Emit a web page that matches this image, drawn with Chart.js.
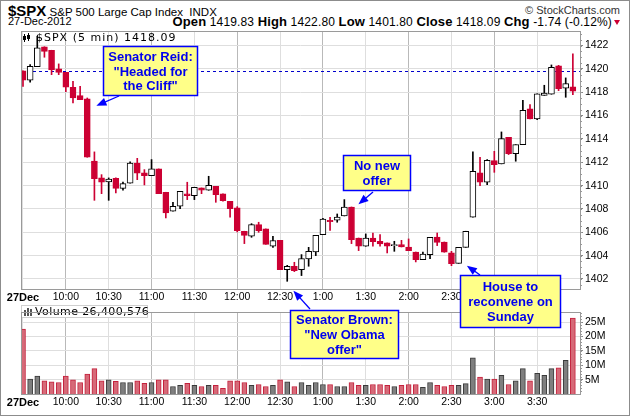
<!DOCTYPE html>
<html>
<head>
<meta charset="utf-8">
<script src="https://cdn.jsdelivr.net/npm/chart.js@4.4.1/dist/chart.umd.min.js"></script>
<style>
  body { margin: 0; background: #fff; }
  #wrap { position: relative; width: 630px; height: 416px; overflow: hidden; font-family: "Liberation Sans", Arial, sans-serif; color: #000; }
  .abs { position: absolute; white-space: nowrap; }
  #frame { left: 0; top: 0; width: 628px; height: 414px; border: 1px solid #8c8c8c; }
  canvas { position: absolute; left: 0; }
</style>
</head>
<body>
<div id="wrap">
  <div class="abs" style="left:8px;top:2px;font-size:11.5px;"><b style="font-size:15px">$SPX</b> S&amp;P 500 Large Cap Index &nbsp;INDX</div>
  <div class="abs" style="right:10px;top:4px;font-size:11px;color:#333;">&copy; StockCharts.com</div>
  <div class="abs" style="left:8px;top:15px;font-size:11px;">27-Dec-2012</div>
  <div class="abs" style="right:18px;top:14px;font-size:12px;letter-spacing:0.15px;"><b style="font-size:13px">Open</b> 1419.83 <b style="font-size:13px">High</b> 1422.80 <b style="font-size:13px">Low</b> 1401.80 <b style="font-size:13px">Close</b> 1418.09 <b style="font-size:13px">Chg</b> -1.74 (-0.12%)</div>
  <div class="abs" style="left:614px;top:20px;width:0;height:0;border-left:3px solid transparent;border-right:3px solid transparent;border-top:5px solid #cc0033;"></div>

  <canvas id="price" width="630" height="304" style="top:0"></canvas>
  <canvas id="vol" width="630" height="112" style="top:304px"></canvas>
  <canvas id="notes" width="630" height="416" style="top:0"></canvas>
  <div id="frame" class="abs"></div>
</div>

<script>
// 5-minute bars, 9:30 .. 15:55, 27 Dec 2012
const tickLabels = ["27Dec", "10:00", "10:30", "11:00", "11:30", "12:00", "12:30", "1:00", "1:30", "2:00", "2:30", "3:00", "3:30", ""];
const priceTicks = [1402, 1404, 1406, 1408, 1410, 1412, 1414, 1416, 1418, 1420, 1422];
const volTicks = [5, 10, 15, 20, 25];
const prevClose = 1419.83;

const openP = [1419.83, 1419.03, 1420.20, 1421.89, 1421.60, 1420.00, 1419.71, 1418.43, 1417.71, 1417.43,
  1412.11, 1410.66, 1410.31, 1410.63, 1409.77, 1410.20, 1411.94, 1411.09, 1410.86, 1411.43,
  1409.43, 1407.80, 1408.23, 1409.29, 1409.14, 1409.80, 1409.60, 1409.94, 1409.29, 1408.66,
  1408.09, 1406.09, 1405.66, 1406.66, 1406.29, 1404.80, 1405.31, 1402.80, 1403.09, 1402.80,
  1403.71, 1404.31, 1405.80, 1407.03, 1407.03, 1407.40, 1408.17, 1405.51, 1404.80, 1405.51,
  1405.23, 1405.09, 1404.86, 1404.94, 1404.74, 1404.31, 1403.66, 1404.09, 1405.60, 1405.17,
  1404.23, 1403.34, 1404.71, 1407.29, 1411.09, 1410.29, 1412.14, 1411.86, 1414.14, 1412.74,
  1413.51, 1416.57, 1415.71, 1417.74, 1417.83, 1420.26, 1418.34, 1418.46];
const highP = [1419.83, 1420.37, 1422.80, 1421.90, 1421.60, 1420.43, 1419.71, 1418.94, 1418.51, 1417.51,
  1412.89, 1410.94, 1410.66, 1410.66, 1410.31, 1412.03, 1412.34, 1411.37, 1412.23, 1411.43,
  1409.43, 1408.57, 1409.51, 1410.29, 1409.86, 1409.80, 1410.80, 1409.94, 1409.29, 1408.66,
  1408.20, 1406.09, 1406.74, 1406.86, 1406.29, 1405.66, 1405.31, 1403.17, 1403.43, 1404.09,
  1404.71, 1405.74, 1407.20, 1407.29, 1407.57, 1408.80, 1408.17, 1405.51, 1405.86, 1405.94,
  1405.80, 1405.09, 1405.23, 1405.31, 1405.43, 1404.31, 1404.31, 1405.57, 1405.94, 1405.17,
  1404.37, 1404.71, 1406.09, 1412.89, 1412.43, 1412.23, 1412.94, 1414.60, 1414.14, 1413.51,
  1417.31, 1416.94, 1417.86, 1418.60, 1420.34, 1420.31, 1419.23, 1421.29];
const lowP = [1418.51, 1418.86, 1420.20, 1421.00, 1419.51, 1419.51, 1418.06, 1417.09, 1417.37, 1412.43,
  1408.74, 1409.31, 1408.74, 1409.37, 1409.60, 1410.20, 1410.51, 1410.06, 1410.86, 1409.31,
  1407.23, 1407.80, 1408.03, 1408.80, 1408.80, 1409.31, 1409.60, 1408.57, 1408.66, 1407.29,
  1406.03, 1405.03, 1405.57, 1406.00, 1404.97, 1404.71, 1402.80, 1401.80, 1402.63, 1402.29,
  1403.09, 1404.00, 1405.80, 1406.17, 1406.86, 1407.40, 1405.03, 1404.43, 1404.80, 1404.80,
  1404.80, 1404.23, 1404.37, 1404.74, 1404.43, 1403.46, 1403.66, 1403.74, 1404.86, 1404.29,
  1403.14, 1403.34, 1404.71, 1407.29, 1410.00, 1410.09, 1411.14, 1411.86, 1412.66, 1412.09,
  1413.51, 1415.71, 1415.66, 1417.74, 1417.83, 1418.14, 1417.57, 1417.80];
const closeP = [1419.03, 1420.23, 1421.80, 1421.51, 1419.94, 1419.71, 1418.43, 1417.51, 1417.37, 1412.43,
  1410.60, 1410.29, 1410.57, 1409.77, 1410.17, 1411.94, 1411.06, 1410.86, 1411.43, 1409.31,
  1407.66, 1408.23, 1409.51, 1409.14, 1409.86, 1409.60, 1410.03, 1409.23, 1408.71, 1408.03,
  1406.14, 1405.74, 1406.66, 1406.14, 1404.97, 1405.29, 1402.80, 1403.09, 1402.71, 1403.74,
  1404.37, 1405.74, 1407.14, 1406.91, 1407.31, 1408.17, 1405.37, 1404.80, 1405.51, 1405.20,
  1405.00, 1404.80, 1404.94, 1404.74, 1404.43, 1403.66, 1404.14, 1405.57, 1405.14, 1404.29,
  1403.31, 1404.71, 1406.09, 1411.23, 1410.29, 1412.17, 1411.80, 1414.03, 1412.74, 1413.51,
  1416.46, 1415.71, 1417.86, 1417.94, 1420.14, 1418.31, 1418.74, 1418.09];
// volume in millions
const volume = [22.6, 5.2, 6.2, 4.6, 4.2, 4.0, 6.2, 4.9, 4.0, 6.9,
  8.8, 4.6, 4.9, 4.4, 4.0, 4.0, 4.6, 3.7, 4.0, 4.9,
  4.9, 2.6, 3.0, 3.7, 3.0, 2.6, 3.0, 3.0, 2.0, 4.6,
  4.6, 4.0, 3.0, 3.3, 2.6, 3.0, 4.9, 4.2, 2.6, 4.0,
  3.0, 4.0, 3.3, 3.3, 2.6, 2.6, 4.0, 3.0, 3.0, 3.3,
  3.3, 3.0, 2.6, 3.0, 3.3, 3.3, 2.3, 4.0, 3.0, 2.6,
  3.0, 3.0, 3.6, 12.6, 5.9, 5.2, 5.2, 6.5, 3.3, 4.6,
  8.8, 4.6, 7.2, 6.5, 8.8, 9.1, 11.7, 26.4];

const DOWN = "#cc0033";
const isUp = closeP.map((c, i) => c >= openP[i]);

const axisFont = { family: "'Liberation Sans', Arial, sans-serif", size: 10.5 };
const dayFont = { family: "'Liberation Sans', Arial, sans-serif", size: 11, weight: "bold" };
const legendFont = "11px 'DejaVu Sans', Verdana, sans-serif";

function timeAxis(h, pad) {
  return {
    type: "linear", min: -0.28, max: 78, offset: false,
    afterBuildTicks: s => { s.ticks = tickLabels.map((t, k) => ({ value: k * 6 })); },
    afterFit: s => { s.height = h; },
    ticks: {
      autoSkip: false, maxRotation: 0, padding: pad, color: "#000",
      font: c => (c.index === 0 ? dayFont : axisFont),
      callback: (v, idx) => tickLabels[idx]
    },
    grid: {
      offset: false, drawTicks: false,
      color: c => (c.tick && c.tick.value % 12 === 6 ? "#b9b9b9" : "#dedede")
    },
    border: { display: false }
  };
}

// box around plot + small minor ticks on the right axis
function framePlugin(step, from, to) {
  return {
    id: "frame",
    afterDraw(chart) {
      const a = chart.chartArea, ctx = chart.ctx, y = chart.scales.y;
      ctx.save();
      ctx.strokeStyle = "#9a9a9a";
      ctx.lineWidth = 1;
      ctx.strokeRect(Math.round(a.left) + 0.5, Math.round(a.top) + 0.5,
        Math.round(a.right - a.left), Math.round(a.bottom - a.top));
      ctx.strokeStyle = "#999";
      ctx.beginPath();
      for (let v = from; v <= to + 1e-9; v += step) {
        const py = Math.round(y.getPixelForValue(v)) + 0.5;
        if (py < a.top || py > a.bottom) continue;
        ctx.moveTo(Math.round(a.right), py);
        ctx.lineTo(Math.round(a.right) + 2, py);
      }
      ctx.stroke();
      ctx.restore();
    }
  };
}

const pricePlugin = {
  id: "priceExtras",
  beforeDatasetsDraw(chart) {
    const a = chart.chartArea, ctx = chart.ctx;
    const py = Math.round(chart.scales.y.getPixelForValue(prevClose)) + 0.5;
    ctx.save();
    ctx.strokeStyle = "#0000cc";
    ctx.setLineDash([3, 3]);
    ctx.beginPath();
    ctx.moveTo(a.left, py);
    ctx.lineTo(a.right, py);
    ctx.stroke();
    ctx.restore();
  },
  afterDatasetsDraw(chart) {
    const ctx = chart.ctx;
    ctx.save();
    // little candle icon
    ctx.fillStyle = "#000";
    ctx.fillRect(24, 34, 1, 8);
    ctx.fillRect(23, 36, 3, 4);
    ctx.fillRect(28, 33, 1, 8);
    ctx.strokeStyle = "#000";
    ctx.strokeRect(27.5, 35.5, 2, 3);
    ctx.font = legendFont;
    ctx.letterSpacing = "1px";
    ctx.textBaseline = "middle";
    ctx.fillText("$SPX (5 min) 1418.09", 36, 38);
    ctx.restore();
  }
};

const volPlugin = {
  id: "volExtras",
  afterDatasetsDraw(chart) {
    const ctx = chart.ctx;
    ctx.save();
    ctx.fillStyle = "#fff";
    ctx.fillRect(21, 1, 126, 12);
    ctx.strokeStyle = "#cfcfcf";
    ctx.strokeRect(21.5, 1.5, 126, 12);
    ctx.fillStyle = "#555";
    ctx.fillRect(24, 6, 2, 6);
    ctx.fillRect(27, 4, 2, 8);
    ctx.fillRect(30, 5, 2, 7);
    ctx.fillStyle = "#000";
    ctx.font = legendFont;
    ctx.letterSpacing = "0.4px";
    ctx.textBaseline = "middle";
    ctx.fillText("Volume 26,400,576", 35, 8);
    ctx.restore();
  }
};

const priceChart = new Chart(document.getElementById("price"), {
  type: "bar",
  data: {
    datasets: [
      {
        label: "body",
        data: openP.map((o, i) => ({ x: i, y: [o, closeP[i]] })),
        backgroundColor: isUp.map(u => (u ? "#fff" : DOWN)),
        borderColor: isUp.map(u => (u ? "#000" : DOWN)),
        borderWidth: 1, borderSkipped: false,
        barThickness: 6, grouped: false, order: 0
      },
      {
        label: "wick",
        data: lowP.map((l, i) => ({ x: i, y: [l, highP[i]] })),
        backgroundColor: isUp.map(u => (u ? "#000" : DOWN)),
        barThickness: 1, grouped: false, order: 1
      }
    ]
  },
  options: {
    responsive: false, animation: false, devicePixelRatio: 1,
    layout: { padding: { left: 21, top: 31, right: 0, bottom: 0 } },
    plugins: { legend: { display: false }, tooltip: { enabled: false } },
    scales: {
      x: timeAxis(15, 2),
      y: {
        type: "linear", position: "right", min: 1401.14, max: 1423.25,
        afterBuildTicks: s => { s.ticks = priceTicks.map(v => ({ value: v })); },
        afterFit: s => { s.width = 50; },
        ticks: { color: "#000", font: axisFont, padding: 2, callback: v => String(v) },
        grid: { color: "#dedede", tickLength: 3, tickColor: "#888" },
        border: { display: false }
      }
    }
  },
  plugins: [pricePlugin, framePlugin(0.5, 1401.5, 1423)]
});

const volChart = new Chart(document.getElementById("vol"), {
  type: "bar",
  data: {
    datasets: [{
      label: "volume",
      data: volume.map((v, i) => ({ x: i, y: v })),
      backgroundColor: isUp.map(u => (u ? "#7f7f7f" : "#d66a78")),
      borderColor: isUp.map(u => (u ? "#3a3a3a" : "#c4203c")),
      borderWidth: 1, barThickness: 5, grouped: false
    }]
  },
  options: {
    responsive: false, animation: false, devicePixelRatio: 1,
    layout: { padding: { left: 21, top: 1, right: 0, bottom: 0 } },
    plugins: { legend: { display: false }, tooltip: { enabled: false } },
    scales: {
      x: timeAxis(22, 2),
      y: {
        type: "linear", position: "right", min: 0, max: 28.4,
        afterBuildTicks: s => { s.ticks = volTicks.map(v => ({ value: v })); },
        afterFit: s => { s.width = 50; },
        ticks: { color: "#000", font: axisFont, padding: 2, callback: v => v + "M" },
        grid: { color: "#dedede", tickLength: 3, tickColor: "#888" },
        border: { display: false }
      }
    }
  },
  plugins: [volPlugin, framePlugin(1, 1, 28)]
});

// callouts: box in page pixels, arrow tip in data space (bar index, price)
const notes = [
  { lines: ["Senator Reid:", "\"Headed for", "the Cliff\""], box: [103, 46, 95, 50], from: [119, 96], tip: [10.28, 1416.85] },
  { lines: ["No new", "offer"], box: [343, 155, 68, 36], from: [373, 192], tip: [46.97, 1408.4] },
  { lines: ["Senator Brown:", "\"New Obama", "offer\""], box: [290, 310, 109, 49], from: [310, 309], tip: [37.87, 1401.0] },
  { lines: ["House to", "reconvene on", "Sunday"], box: [460, 275, 101, 53], from: [480, 275], tip: [62.16, 1403.14] }
];

function arrow(ctx, x0, y0, x1, y1) {
  const a = Math.atan2(y1 - y0, x1 - x0), L = 10, W = 4;
  ctx.beginPath();
  ctx.moveTo(x0, y0);
  ctx.lineTo(x1 - L * 0.6 * Math.cos(a), y1 - L * 0.6 * Math.sin(a));
  ctx.stroke();
  ctx.beginPath();
  ctx.moveTo(x1, y1);
  ctx.lineTo(x1 - L * Math.cos(a) + W * Math.sin(a), y1 - L * Math.sin(a) - W * Math.cos(a));
  ctx.lineTo(x1 - L * Math.cos(a) - W * Math.sin(a), y1 - L * Math.sin(a) + W * Math.cos(a));
  ctx.closePath();
  ctx.fill();
}

function drawNotes() {
  const ctx = document.getElementById("notes").getContext("2d");
  const xs = priceChart.scales.x, ys = priceChart.scales.y;
  notes.forEach(n => {
    const [bx, by, bw, bh] = n.box;
    ctx.fillStyle = "#ffff88";
    ctx.fillRect(bx, by, bw, bh);
    ctx.strokeStyle = "#0000ff";
    ctx.lineWidth = 1.5;
    ctx.strokeRect(bx + 0.5, by + 0.5, bw - 1, bh - 1);
    ctx.fillStyle = "#0000ee";
    ctx.font = "bold 13px 'Liberation Sans', Arial, sans-serif";
    ctx.textAlign = "center";
    ctx.textBaseline = "middle";
    const lh = 14.7, cy = by + bh / 2 + 1 - (n.lines.length - 1) * lh / 2;
    n.lines.forEach((t, k) => ctx.fillText(t, bx + bw / 2, cy + k * lh));
    ctx.fillStyle = "#0000ff";
    ctx.lineWidth = 1.3;
    arrow(ctx, n.from[0], n.from[1], xs.getPixelForValue(n.tip[0]), ys.getPixelForValue(n.tip[1]));
  });
}
drawNotes();
</script>
</body>
</html>
